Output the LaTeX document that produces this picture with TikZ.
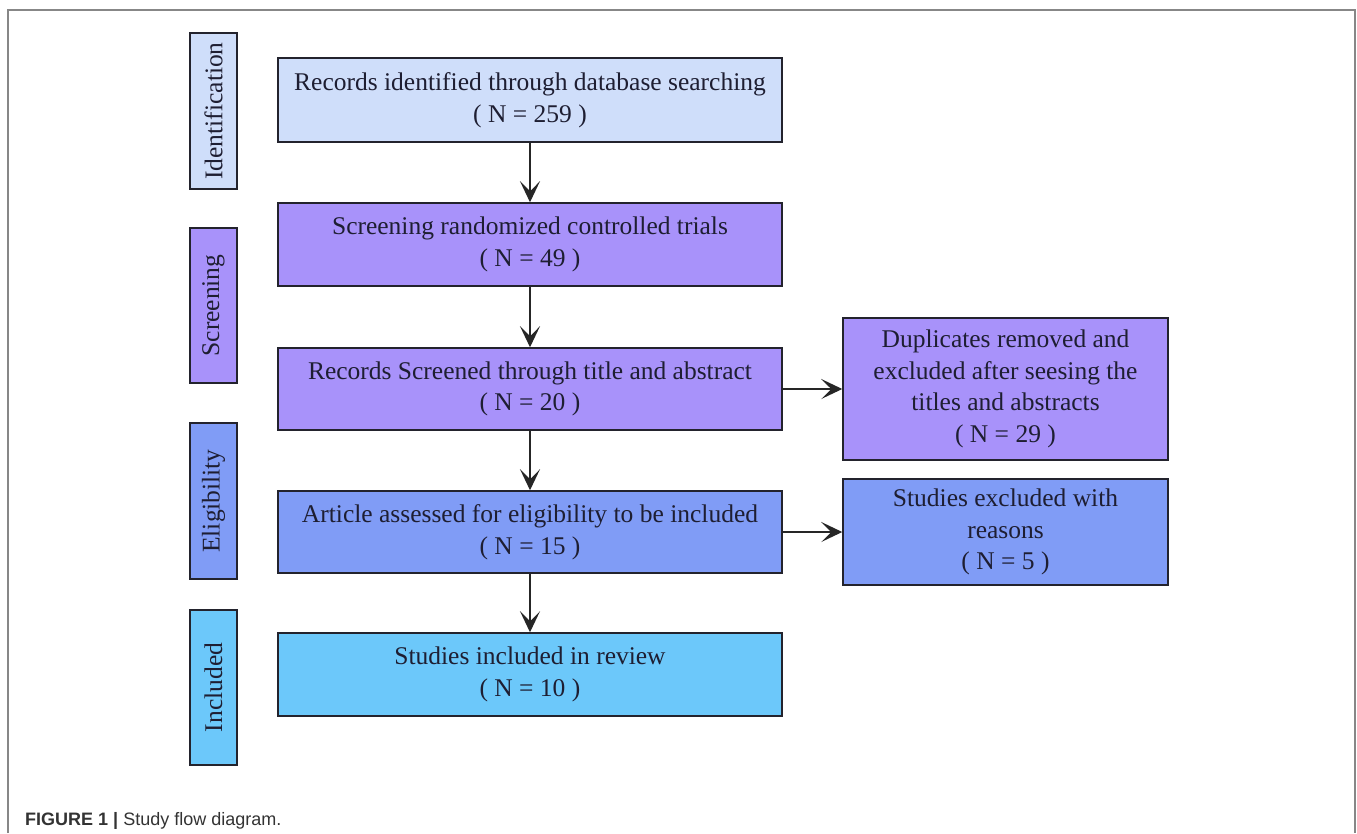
\documentclass[tikz,border=0pt]{standalone}
\usepackage{fontspec}
\setmainfont{Liberation Serif}
\newfontfamily\capfont{Liberation Sans}
\usetikzlibrary{arrows.meta}
\definecolor{cIdent}{RGB}{207,222,250}
\definecolor{cScreen}{RGB}{168,146,250}
\definecolor{cElig}{RGB}{128,156,246}
\definecolor{cIncl}{RGB}{108,200,250}
\definecolor{cText}{RGB}{30,30,50}
\definecolor{cBorder}{RGB}{35,35,45}
\definecolor{cFrame}{RGB}{135,135,135}
\tikzset{
  box/.style={draw=cBorder, line width=1.5pt, rectangle, inner sep=0pt, align=center,
    text=cText, font=\fontsize{25.5}{31.5}\selectfont},
  mainbox/.style={box, minimum width=504pt},
  sidebox/.style={box, rotate=90, minimum height=47pt},
  flow/.style={draw=black!85, line width=1.3pt, -{Stealth[length=21pt,width=20pt,inset=10pt]}},
}
\begin{document}
\begin{tikzpicture}[x=1pt,y=-1pt]
\useasboundingbox (0,0) rectangle (1357,833);
\fill[white] (0,0) rectangle (1357,833);
\draw[cFrame, line width=1.5pt] (8,833) -- (8,10) -- (1355,10) -- (1355,833);

% side labels
\node[sidebox, fill=cIdent, minimum width=156pt] (sIdent) at (213.5,111) {Identification};
\node[sidebox, fill=cScreen, minimum width=155pt] (sScreen) at (213.5,305.5) {Screening};
\node[sidebox, fill=cElig, minimum width=156pt] (sElig) at (213.5,501) {Eligibility};
\node[sidebox, fill=cIncl, minimum width=155pt] (sIncl) at (213.5,687.5) {Included};

% main boxes
\node[mainbox, fill=cIdent, minimum height=84pt] (b1) at (530,100) {Records identified through database searching\\( N = 259 )};
\node[mainbox, fill=cScreen, minimum height=83pt] (b2) at (530,244.5) {Screening randomized controlled trials\\( N = 49 )};
\node[mainbox, fill=cScreen, minimum height=82pt] (b3) at (530,389) {Records Screened through title and abstract\\( N = 20 )};
\node[mainbox, fill=cElig, minimum height=82pt] (b4) at (530,532) {Article assessed for eligibility to be included\\( N = 15 )};
\node[mainbox, fill=cIncl, minimum height=83pt] (b5) at (530,674.5) {Studies included in review\\( N = 10 )};

% right boxes
\node[box, fill=cScreen, minimum width=325pt, minimum height=142pt] (dup) at (1005.5,389) {Duplicates removed and\\excluded after seesing the\\titles and abstracts\\( N = 29 )};
\node[box, fill=cElig, minimum width=325pt, minimum height=106pt] (excl) at (1005.5,532) {Studies excluded with\\reasons\\( N = 5 )};

% connectors
\draw[flow] (b1) -- (b2);
\draw[flow] (b2) -- (b3);
\draw[flow] (b3) -- (b4);
\draw[flow] (b4) -- (b5);
\draw[flow] (b3) -- (dup);
\draw[flow] (b4) -- (excl);

% caption
\node[anchor=base west, inner sep=0pt, text=black!80, font=\capfont\fontsize{18}{22}\selectfont] (cap) at (25,825) {\textbf{FIGURE 1 |} Study flow diagram.};
\end{tikzpicture}
\end{document}
